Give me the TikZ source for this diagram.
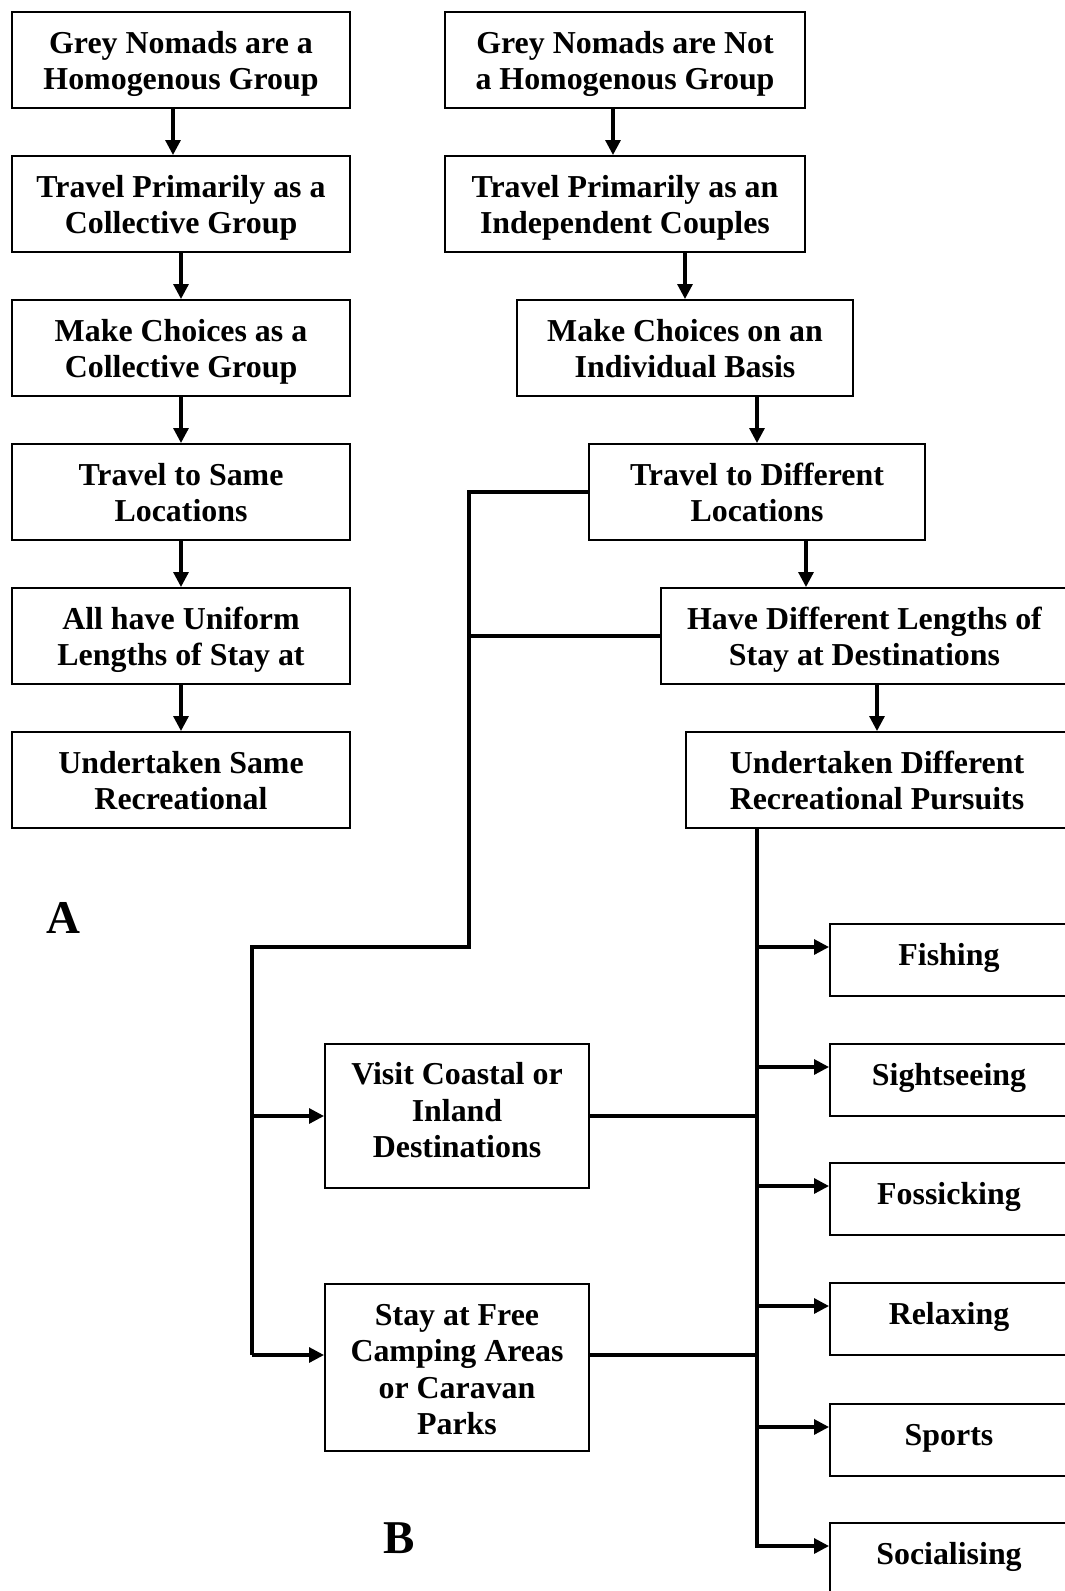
\documentclass[tikz,border=0pt]{standalone}
\usepackage{fontspec}
\setmainfont{Liberation Serif}
\usetikzlibrary{arrows.meta}
% Multi-line box text with struts on every row, lowered by \tdrop
\newcommand\tx[1]{\raisebox{-\tdrop}[\height][\depth]{\begin{tabular}{@{}c@{}}#1\end{tabular}}}
\begin{document}
\begin{tikzpicture}[x=1pt,y=-1pt,
  tdrop/.store in=\tdrop, tdrop=4pt,
  box/.style={draw, line width=2pt, inner sep=0pt,
    font=\fontsize{31.9}{36.5}\selectfont\bfseries},
  conn/.style={line width=3.2pt},
  arr/.style={line width=3.2pt, -{Triangle[length=15pt,width=15pt]}},
  tag/.style={font=\fontsize{47}{50}\selectfont\bfseries}]
\fill[white] (0,0) rectangle (1065,1591);
\useasboundingbox (0,0) rectangle (1065,1591);

% Column of the homogenous view
\node[box, minimum width=338, minimum height=96] (L1) at (181,60) {\tx{Grey Nomads are a\\Homogenous Group}};
\node[box, minimum width=338, minimum height=96] (L2) at (181,204) {\tx{Travel Primarily as a\\Collective Group}};
\node[box, minimum width=338, minimum height=96] (L3) at (181,348) {\tx{Make Choices as a\\Collective Group}};
\node[box, minimum width=338, minimum height=96] (L4) at (181,492) {\tx{Travel to Same\\Locations}};
\node[box, minimum width=338, minimum height=96] (L5) at (181,636) {\tx{All have Uniform\\Lengths of Stay at}};
\node[box, minimum width=338, minimum height=96] (L6) at (181,780) {\tx{Undertaken Same\\Recreational}};

\draw[arr] ([xshift=-8]L1.south) -- ([xshift=-8]L2.north);
\draw[arr] (L2.south) -- (L3.north);
\draw[arr] (L3.south) -- (L4.north);
\draw[arr] (L4.south) -- (L5.north);
\draw[arr] (L5.south) -- (L6.north);

% Column of the non-homogenous view
\node[box, minimum width=360, minimum height=96] (R1) at (625,60) {\tx{Grey Nomads are Not\\a Homogenous Group}};
\node[box, minimum width=360, minimum height=96] (R2) at (625,204) {\tx{Travel Primarily as an\\Independent Couples}};
\node[box, minimum width=336, minimum height=96] (R3) at (685,348) {\tx{Make Choices on an\\Individual Basis}};
\node[box, minimum width=336, minimum height=96] (R4) at (757,492) {\tx{Travel to Different\\Locations}};
\node[box, minimum width=407, minimum height=96] (R5) at (864.5,636) {\tx{Have Different Lengths of\\Stay at Destinations}};
\node[box, minimum width=382, minimum height=96] (R6) at (877,780) {\tx{Undertaken Different\\Recreational Pursuits}};

\draw[arr] ([xshift=-12]R1.south) -- ([xshift=-12]R2.north);
\draw[arr] (R3.north |- R2.south) -- (R3.north);
\draw[arr] (R4.north |- R3.south) -- (R4.north);
\draw[arr] (R4.south -| R2.east) -- (R5.north -| R2.east);
\draw[arr] (R6.north |- R5.south) -- (R6.north);

% Destination and accommodation choices
\node[box, tdrop=-2pt, minimum width=264, minimum height=144] (V) at (457,1116) {\tx{Visit Coastal or\\Inland\\Destinations}};
\node[box, tdrop=5pt, minimum width=264, minimum height=167] (S) at (457,1367.5) {\tx{Stay at Free\\Camping Areas\\or Caravan\\Parks}};

\coordinate (b1) at (469,492);
\coordinate (b2) at (469,636);
\coordinate (b3) at (469,947);
\coordinate (b4) at (252,947);
\coordinate (b5) at (252,1116);
\coordinate (b6) at (252,1355);

\draw[conn] (R4.west) -- (b1) -- (b3) -- (b4) -- (b6);
\draw[conn] (R5.west) -- (b2);
\draw[arr] (b5) -- (V.west);
\draw[arr] (b6) -- (S.west |- b6);

% Recreational pursuits
\coordinate (t0) at (757,828);
\coordinate (t1) at (757,1548);
\node[box, tdrop=-2pt, minimum width=238, minimum height=72] (P1) at (949,960) {\tx{Fishing}};
\node[box, tdrop=-2pt, minimum width=238, minimum height=72] (P2) at (949,1080) {\tx{Sightseeing}};
\node[box, tdrop=-2pt, minimum width=238, minimum height=72] (P3) at (949,1199) {\tx{Fossicking}};
\node[box, tdrop=-2pt, minimum width=238, minimum height=72] (P4) at (949,1319) {\tx{Relaxing}};
\node[box, tdrop=-2pt, minimum width=238, minimum height=72] (P5) at (949,1440) {\tx{Sports}};
\node[box, tdrop=-2pt, minimum width=238, minimum height=72] (P6) at (949,1559) {\tx{Socialising}};

\draw[conn] (t0) -- (t1);
\draw[conn] (V.east) -- (V.east -| t0);
\draw[conn] (S.east |- b6) -- (t0 |- b6);
\foreach \p in {P1,P2,P3,P4,P5,P6}
  \draw[arr] ([yshift=13pt]\p.west -| t0) -- ([yshift=13pt]\p.west);

\node[tag] (A) at (63.5,917.5) {A};
\node[tag] (B) at (399.5,1538) {B};
\end{tikzpicture}
\end{document}
